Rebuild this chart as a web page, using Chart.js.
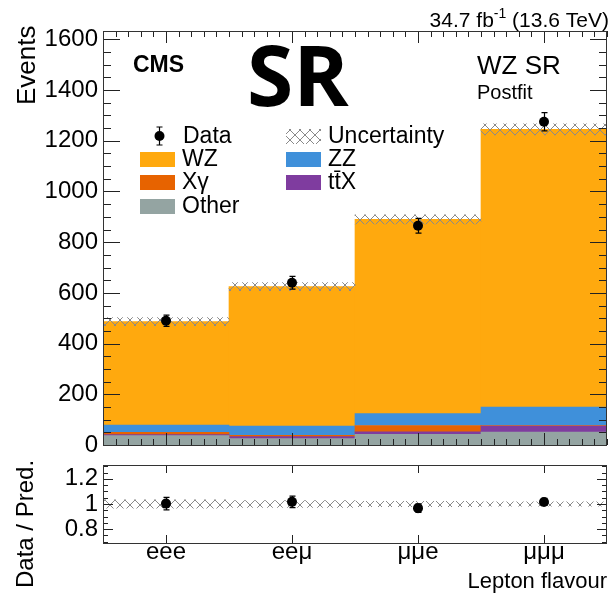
<!DOCTYPE html>
<html>
<head>
<meta charset="utf-8">
<script src="https://cdn.jsdelivr.net/npm/chart.js@4.4.1/dist/chart.umd.min.js"></script>
<style>
  html, body { margin: 0; padding: 0; background: #fff; }
  #wrap { position: relative; width: 612px; height: 598px; overflow: hidden; }
  #mainBox { position: absolute; left: 0; top: 0; }
  #ratioBox { position: absolute; left: 0; top: 455px; }
</style>
</head>
<body>
<div id="wrap">
  <canvas id="mainBox" width="612" height="460"></canvas>
  <canvas id="ratioBox" width="612" height="143"></canvas>
</div>
<script>
// Lepton flavour bins
const flavours = ["eee", "ee\u03bc", "\u03bc\u03bce", "\u03bc\u03bc\u03bc"];

// Postfit background yields, bottom of the stack first
const other = [37, 25, 42, 51];
const ttX = [4, 8, 10, 24];
const xGamma = [9, 5, 25, 2];
const zz = [29, 37, 47, 73];
const wz = [408, 550, 766, 1095];

// Total uncertainty on the prediction (events)
const predUnc = [16, 16, 18, 22];

// Observed data and its errors
const dataYield = [490, 640, 865, 1275];
const dataErr = [22, 25, 29, 36];

// Ratio panel
const ratio = [1.003, 1.017, 0.967, 1.016];
const ratioErr = [0.05, 0.046, 0.034, 0.028];
const ratioUnc = [0.033, 0.028, 0.022, 0.018];

// Axis ticks
const yTicks = [0, 200, 400, 600, 800, 1000, 1200, 1400, 1600];
const ratioTicks = [0.8, 1, 1.2];

const FONT = "'Liberation Sans', Arial, sans-serif";
const colors = {
  wz: "#ffa90e",
  zz: "#3f90da",
  xg: "#e76300",
  ttx: "#7f3c9f",
  other: "#94a4a2",
};

Chart.defaults.font.family = FONT;
Chart.defaults.color = "#000";

function hatchPattern() {
  const c = document.createElement("canvas");
  c.width = 10;
  c.height = 10;
  const g = c.getContext("2d");
  g.strokeStyle = "#8a8a8a";
  g.lineWidth = 1;
  g.beginPath();
  g.moveTo(0, 0); g.lineTo(10, 10);
  g.moveTo(10, 0); g.lineTo(0, 10);
  g.stroke();
  return g.createPattern(c, "repeat");
}
const hatch = hatchPattern();

const totals = wz.map((v, i) => v + zz[i] + xGamma[i] + ttX[i] + other[i]);

// fixed-width y axis, no extra room reserved for half-labels
function fixY(s) {
  s.width = 103;
  s.paddingTop = 0;
  s.paddingBottom = 0;
}

// ROOT-style frame with inward ticks
function drawFrame(chart, cfg) {
  const { ctx, chartArea: a } = chart;
  const x = chart.scales.x, y = chart.scales.y;
  ctx.save();
  ctx.strokeStyle = "#222";
  ctx.lineWidth = 1;
  ctx.beginPath();
  // y ticks on both sides
  for (let v = cfg.yMinorStart; v <= y.max + 1e-9; v += cfg.yMinor) {
    const py = Math.round(y.getPixelForValue(v)) + 0.5;
    const major = cfg.yMajor.some((m) => Math.abs(m - v) < 1e-6);
    const len = major ? cfg.yMajorLen : cfg.yMinorLen;
    ctx.moveTo(a.left, py); ctx.lineTo(a.left + len, py);
    ctx.moveTo(a.right, py); ctx.lineTo(a.right - len, py);
  }
  // x ticks top and bottom
  for (let k = 0; k * cfg.xMinor <= 4 + 1e-9; k++) {
    const v = k * cfg.xMinor - 0.5;
    const px = Math.round(x.getPixelForValue(v)) + 0.5;
    const frac = Math.abs((v + 0.5) % 1 - 0.5);
    const major = frac < 1e-6;
    if (!major && !cfg.xMinorLen) continue;
    const len = major ? cfg.xMajorLen : cfg.xMinorLen;
    ctx.moveTo(px, a.bottom); ctx.lineTo(px, a.bottom - len);
    ctx.moveTo(px, a.top); ctx.lineTo(px, a.top + len);
  }
  ctx.stroke();
  ctx.strokeStyle = "#333";
  ctx.strokeRect(a.left + 0.5, a.top + 0.5, a.right - a.left - 1, a.bottom - a.top);
  ctx.restore();
}

function drawErrors(chart, values, errs, cap) {
  const { ctx } = chart;
  const x = chart.scales.x, y = chart.scales.y;
  ctx.save();
  ctx.strokeStyle = "#000";
  ctx.lineWidth = 1.2;
  ctx.beginPath();
  values.forEach((v, i) => {
    const px = Math.round(x.getPixelForValue(i)) + 0.5;
    const lo = y.getPixelForValue(v - errs[i]);
    const hi = y.getPixelForValue(v + errs[i]);
    ctx.moveTo(px, lo); ctx.lineTo(px, hi);
    ctx.moveTo(px - cap, lo); ctx.lineTo(px + cap, lo);
    ctx.moveTo(px - cap, hi); ctx.lineTo(px + cap, hi);
  });
  ctx.stroke();
  ctx.restore();
}

function legendBox(ctx, x, y, fill, label) {
  ctx.fillStyle = fill;
  ctx.fillRect(x, y - 7, 35, 15);
  ctx.fillStyle = "#000";
  ctx.fillText(label, x + 42, y + 1);
}

const mainDecor = {
  id: "mainDecor",
  afterDatasetsDraw(chart) {
    drawErrors(chart, dataYield, dataErr, 3);
  },
  afterDraw(chart) {
    drawFrame(chart, {
      yMinorStart: 0, yMinor: 50, yMajor: yTicks, yMajorLen: 17, yMinorLen: 8,
      xMinor: 0.1, xMajorLen: 12, xMinorLen: 6,
    });
    const ctx = chart.ctx;
    ctx.save();
    ctx.fillStyle = "#000";
    ctx.textBaseline = "alphabetic";

    // luminosity label
    const p1 = "34.7 fb", p3 = " (13.6 TeV)";
    ctx.font = "14px " + FONT;
    const wSup = ctx.measureText("-1").width;
    ctx.font = "21px " + FONT;
    const w3 = ctx.measureText(p3).width, w1 = ctx.measureText(p1).width;
    const lx = 609 - w3 - wSup - w1;
    ctx.fillText(p1, lx, 27);
    ctx.font = "14px " + FONT;
    ctx.fillText("-1", lx + w1, 18);
    ctx.font = "21px " + FONT;
    ctx.fillText(p3, lx + w1 + wSup, 27);

    ctx.font = "bold 23px " + FONT;
    ctx.fillText("CMS", 133, 72);
    ctx.font = "bold 84px 'Open Sans', 'Noto Sans', sans-serif";
    ctx.fillText("SR", 247, 106);
    ctx.font = "26px " + FONT;
    ctx.fillText("WZ SR", 477, 74);
    ctx.font = "20px " + FONT;
    ctx.fillText("Postfit", 477, 99);

    // y axis title
    ctx.font = "26px " + FONT;
    ctx.save();
    ctx.translate(35, 105);
    ctx.rotate(-Math.PI / 2);
    ctx.fillText("Events", 0, 0);
    ctx.restore();

    // legend
    ctx.font = "23px " + FONT;
    ctx.textBaseline = "middle";
    const rows = [136, 159, 182, 206];
    ctx.strokeStyle = "#000";
    ctx.lineWidth = 1.2;
    ctx.beginPath();
    ctx.moveTo(159.5, rows[0] - 9); ctx.lineTo(159.5, rows[0] + 9);
    ctx.moveTo(156.5, rows[0] - 9); ctx.lineTo(162.5, rows[0] - 9);
    ctx.moveTo(156.5, rows[0] + 9); ctx.lineTo(162.5, rows[0] + 9);
    ctx.stroke();
    ctx.beginPath();
    ctx.arc(159.5, rows[0], 5, 0, Math.PI * 2);
    ctx.fill();
    ctx.fillText("Data", 183, rows[0] + 1);
    legendBox(ctx, 140, rows[1], colors.wz, "WZ");
    legendBox(ctx, 140, rows[2], colors.xg, "X\u03b3");
    legendBox(ctx, 140, rows[3], colors.other, "Other");
    legendBox(ctx, 286, rows[0], hatch, "Uncertainty");
    legendBox(ctx, 286, rows[1], colors.zz, "ZZ");
    legendBox(ctx, 286, rows[2], colors.ttx, "tt\u0304X");
    ctx.restore();
  },
};

const stackDs = (label, data, color) => ({
  label, data,
  backgroundColor: color,
  borderWidth: 0,
  barPercentage: 1,
  categoryPercentage: 1,
  stack: "bkg",
});

new Chart(document.getElementById("mainBox"), {
  type: "bar",
  data: {
    labels: flavours,
    datasets: [
      {
        type: "line",
        label: "Data",
        data: dataYield,
        showLine: false,
        pointRadius: 5,
        pointBackgroundColor: "#000",
        pointBorderWidth: 0,
        stack: "obs",
      },
      {
        label: "Uncertainty",
        data: totals.map((t, i) => [t - predUnc[i], t + predUnc[i]]),
        backgroundColor: hatch,
        borderWidth: 0,
        barPercentage: 1,
        categoryPercentage: 1,
        grouped: false,
        stack: "unc",
      },
      stackDs("Other", other, colors.other),
      stackDs("ttX", ttX, colors.ttx),
      stackDs("Xgamma", xGamma, colors.xg),
      stackDs("ZZ", zz, colors.zz),
      stackDs("WZ", wz, colors.wz),
    ],
  },
  options: {
    responsive: false,
    animation: false,
    devicePixelRatio: 1,
    layout: { padding: { top: 31, right: 1, bottom: 15, left: 0 } },
    plugins: { legend: { display: false }, tooltip: { enabled: false } },
    scales: {
      x: { display: false, stacked: true },
      y: {
        stacked: true,
        min: 0,
        max: 1633,
        afterBuildTicks: (s) => { s.ticks = yTicks.map((v) => ({ value: v })); },
        afterFit: fixY,
        grid: { display: false, drawTicks: false },
        border: { display: false },
        ticks: { padding: 5, font: { size: 24 }, color: "#000", callback: (v) => String(v) },
      },
    },
  },
  plugins: [mainDecor],
});

const ratioDecor = {
  id: "ratioDecor",
  afterDatasetsDraw(chart) {
    drawErrors(chart, ratio, ratioErr, 3);
  },
  afterDraw(chart) {
    drawFrame(chart, {
      yMinorStart: 0.7, yMinor: 0.05, yMajor: ratioTicks, yMajorLen: 10, yMinorLen: 5,
      xMinor: 0.5, xMajorLen: 8, xMinorLen: 0,
    });
    const ctx = chart.ctx;
    ctx.save();
    ctx.fillStyle = "#000";
    ctx.font = "24px " + FONT;
    ctx.translate(33, 133);
    ctx.rotate(-Math.PI / 2);
    ctx.fillText("Data / Pred.", 0, 0);
    ctx.restore();
  },
};

new Chart(document.getElementById("ratioBox"), {
  type: "bar",
  data: {
    labels: flavours,
    datasets: [
      {
        type: "line",
        label: "Data / Pred.",
        data: ratio,
        showLine: false,
        pointRadius: 5,
        pointBackgroundColor: "#000",
        pointBorderWidth: 0,
      },
      {
        label: "Uncertainty",
        data: ratioUnc.map((u) => [1 - u, 1 + u]),
        backgroundColor: hatch,
        borderWidth: 0,
        barPercentage: 1,
        categoryPercentage: 1,
      },
    ],
  },
  options: {
    responsive: false,
    animation: false,
    devicePixelRatio: 1,
    layout: { padding: { top: 10, right: 1, bottom: 0, left: 0 } },
    plugins: { legend: { display: false }, tooltip: { enabled: false } },
    scales: {
      x: {
        afterFit: (s) => { s.height = 55; },
        grid: { display: false, drawTicks: false },
        border: { display: false },
        ticks: { padding: -5, font: { size: 24 }, color: "#000", maxRotation: 0 },
        title: {
          display: true,
          text: "Lepton flavour",
          align: "end",
          font: { size: 22 },
          color: "#000",
          padding: { top: 0, bottom: 3 },
        },
      },
      y: {
        min: 0.69,
        max: 1.31,
        afterBuildTicks: (s) => { s.ticks = ratioTicks.map((v) => ({ value: v })); },
        afterFit: fixY,
        grid: { display: false, drawTicks: false },
        border: { display: false },
        ticks: {
          padding: 5,
          font: { size: 24 },
          color: "#000",
          callback: (v) => (v === 1 ? "1" : v.toFixed(1)),
        },
      },
    },
  },
  plugins: [ratioDecor],
});
</script>
</body>
</html>
